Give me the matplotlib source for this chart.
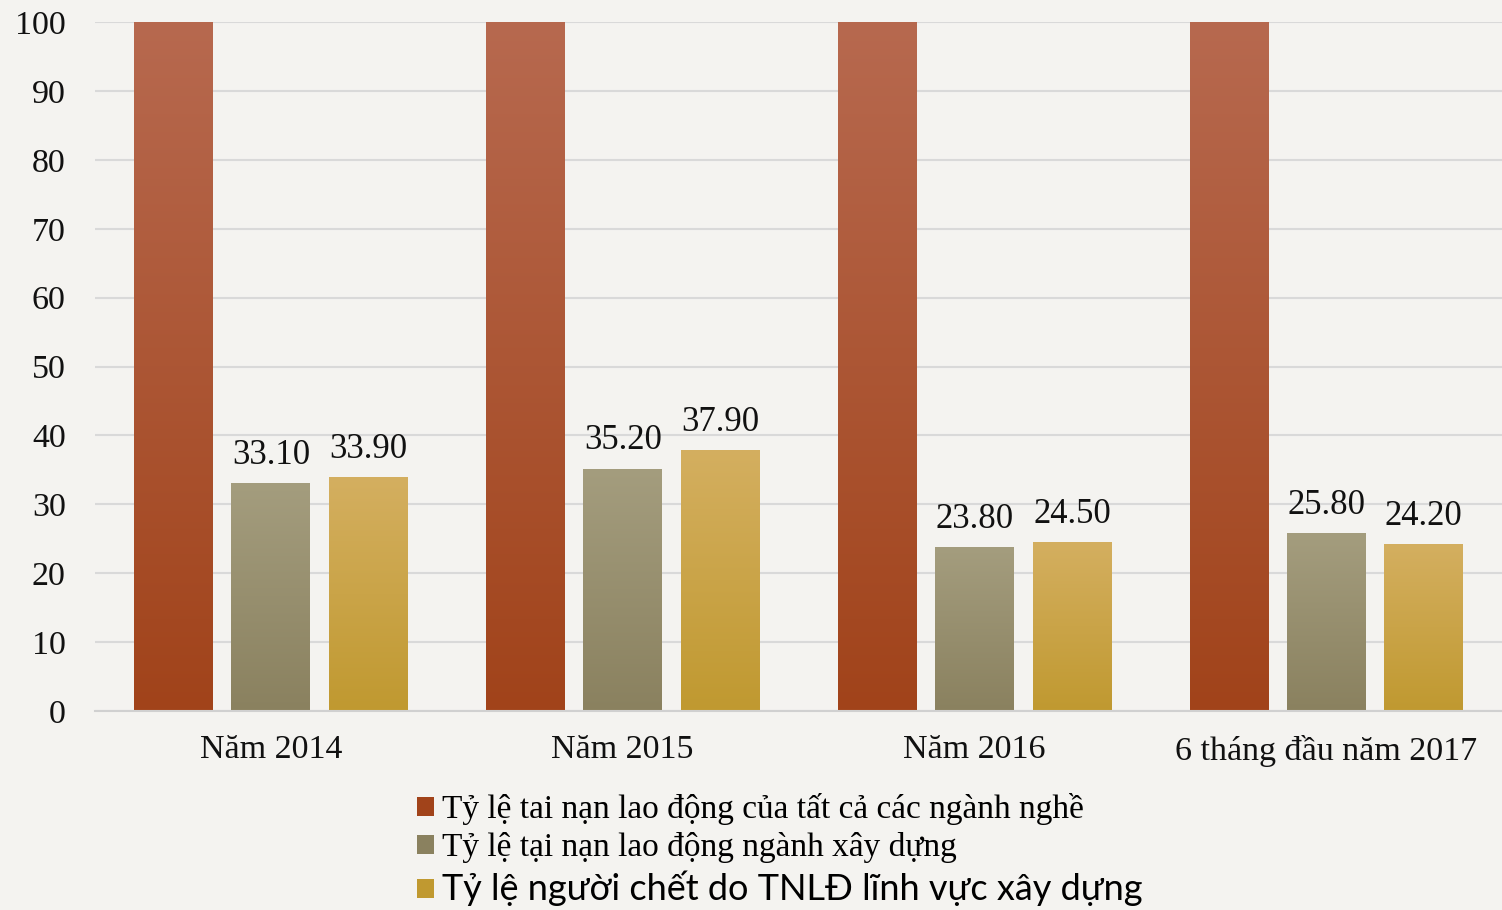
import numpy as np
import matplotlib.pyplot as plt
from matplotlib.patches import Patch

# data
categories = ['Năm 2014', 'Năm 2015', 'Năm 2016', '6 tháng đầu năm 2017']
all_sectors = [100, 100, 100, 100]
construction = [33.10, 35.20, 23.80, 25.80]
deaths = [33.90, 37.90, 24.50, 24.20]
series_names = ['Tỷ lệ tai nạn lao động của tất cả các ngành nghề',
                'Tỷ lệ tại nạn lao động ngành xây dựng',
                'Tỷ lệ người chết do TNLĐ lĩnh vực xây dựng']
yticks = [0, 10, 20, 30, 40, 50, 60, 70, 80, 90, 100]

# gradient colors (top, bottom)
grads = [('#b7694f', '#a1431a'), ('#a49d7e', '#8a815f'), ('#d4af60', '#c09930')]
serif = 'Liberation Serif'
bg = '#f4f3f0'

fig = plt.figure(figsize=(15.02, 9.10), dpi=100, facecolor=bg)
ax = fig.add_axes([0.0632, 0.2187, 0.937, 0.757])
ax.set_facecolor(bg)

x = np.arange(len(categories))
w = 0.224
off = 0.277
grad = np.linspace(1, 0, 256).reshape(-1, 1)

for i, vals in enumerate([all_sectors, construction, deaths]):
    cmap = plt.matplotlib.colors.LinearSegmentedColormap.from_list('g', [grads[i][1], grads[i][0]])
    bars = ax.bar(x + (i - 1) * off, vals, w, color=grads[i][0], zorder=2)
    for b in bars:
        bx, by = b.get_x(), b.get_y()
        im = ax.imshow(grad, extent=[bx, bx + b.get_width(), by, by + b.get_height()],
                       aspect='auto', cmap=cmap, zorder=2.5, interpolation='bicubic')
        im.set_clip_path(b)
    if i > 0:
        for xi, v in zip(x + (i - 1) * off, vals):
            ax.text(xi, v + 1.6, '%.2f' % v, ha='center', va='bottom',
                    fontsize=25, family=serif, color='#111111')

ax.set_xlim(-0.5, 3.5)
ax.set_ylim(0, 100)
ax.set_yticks(yticks)
ax.set_xticks(x)
ax.set_xticklabels(categories, family=serif, fontsize=24.5)
ax.set_yticklabels([str(t) for t in yticks], family=serif, fontsize=24.5)
ax.tick_params(length=0, pad=21, colors='#111111')
ax.tick_params(axis='x', pad=17)
ax.grid(axis='y', color='#d9d9d9', lw=1.5, zorder=0)
ax.set_axisbelow(True)
for s in ['top', 'right', 'left']:
    ax.spines[s].set_visible(False)
ax.spines['bottom'].set_color('#d0d0d0')
ax.spines['bottom'].set_linewidth(1.5)

handles = [Patch(facecolor=grads[i][1]) for i in range(3)]
leg = fig.legend(handles, series_names, loc='upper left', bbox_to_anchor=(0.2667, 0.147),
                 frameon=False, handlelength=0.5, handleheight=0.5, handletextpad=0.25,
                 labelspacing=0.22, borderpad=0, prop={'family': serif, 'size': 24})
t3 = leg.get_texts()[2]
t3.set_fontfamily('Lato')
t3.set_fontsize(26)

fig.savefig('out.png', dpi=100, facecolor=bg)
